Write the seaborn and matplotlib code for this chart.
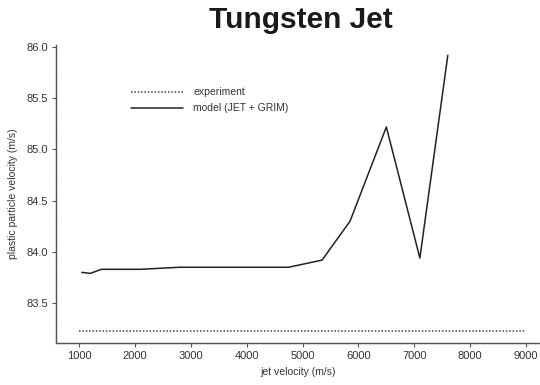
import matplotlib
matplotlib.use("Agg")
import matplotlib.pyplot as plt
import seaborn as sns
import pandas as pd

# Data
exp_x = [1000, 9000]
exp_y = [83.225, 83.225]
model_x = [1050, 1200, 1400, 2100, 2800, 4750, 5350, 5850, 6500, 7100, 7600]
model_y = [83.80, 83.79, 83.83, 83.83, 83.85, 83.85, 83.92, 84.30, 85.22, 83.94, 85.92]
series_names = ["experiment", "model (JET + GRIM)"]
x_ticks = [1000, 2000, 3000, 4000, 5000, 6000, 7000, 8000, 9000]
y_ticks = [83.5, 84.0, 84.5, 85.0, 85.5, 86.0]

df = pd.concat([
    pd.DataFrame({"x": exp_x, "y": exp_y, "series": series_names[0]}),
    pd.DataFrame({"x": model_x, "y": model_y, "series": series_names[1]}),
], ignore_index=True)

sns.set_theme(style="ticks")
plt.rcParams["font.family"] = ["Liberation Sans", "DejaVu Sans"]

fig = plt.figure(figsize=(5.4, 3.85), dpi=100)
ax = fig.add_axes([0.104, 0.109, 0.896, 0.774])

sns.lineplot(data=df, x="x", y="y", hue="series", style="series",
             palette={series_names[0]: "#444444", series_names[1]: "#222222"},
             dashes={series_names[0]: (1, 1.2), series_names[1]: ""},
             linewidth=1.1, sort=False, estimator=None, ax=ax)

ax.set_xlim(590, 9250)
ax.set_ylim(83.11, 86.02)
ax.set_xticks(x_ticks)
ax.set_xticklabels([str(t) for t in x_ticks], fontsize=8)
ax.set_yticks(y_ticks)
ax.set_yticklabels([f"{t:.1f}" for t in y_ticks], fontsize=8)
ax.tick_params(axis="both", length=3, width=0.8, color="#555555", labelcolor="#333333", pad=3)
for s in ["top", "right"]:
    ax.spines[s].set_visible(False)
for s in ["left", "bottom"]:
    ax.spines[s].set_linestyle((0, (1, 0.7)))
    ax.spines[s].set_linewidth(1.0)
    ax.spines[s].set_color("#555555")

ax.set_xlabel("jet velocity (m/s)", fontsize=7.5, color="#333333", labelpad=4)
ax.set_ylabel("plastic particle velocity (m/s)", fontsize=7.5, color="#333333", labelpad=6)

fig.suptitle("Tungsten Jet", x=0.558, y=0.985, fontsize=21.5, fontweight="bold", color="#1a1a1a")

leg = ax.legend(loc="upper left", bbox_to_anchor=(0.135, 0.89), frameon=False,
                fontsize=7.5, handlelength=5.0, handletextpad=1.0, labelspacing=0.6)
for t in leg.get_texts():
    t.set_color("#333333")

fig.savefig("out.png", dpi=100)
